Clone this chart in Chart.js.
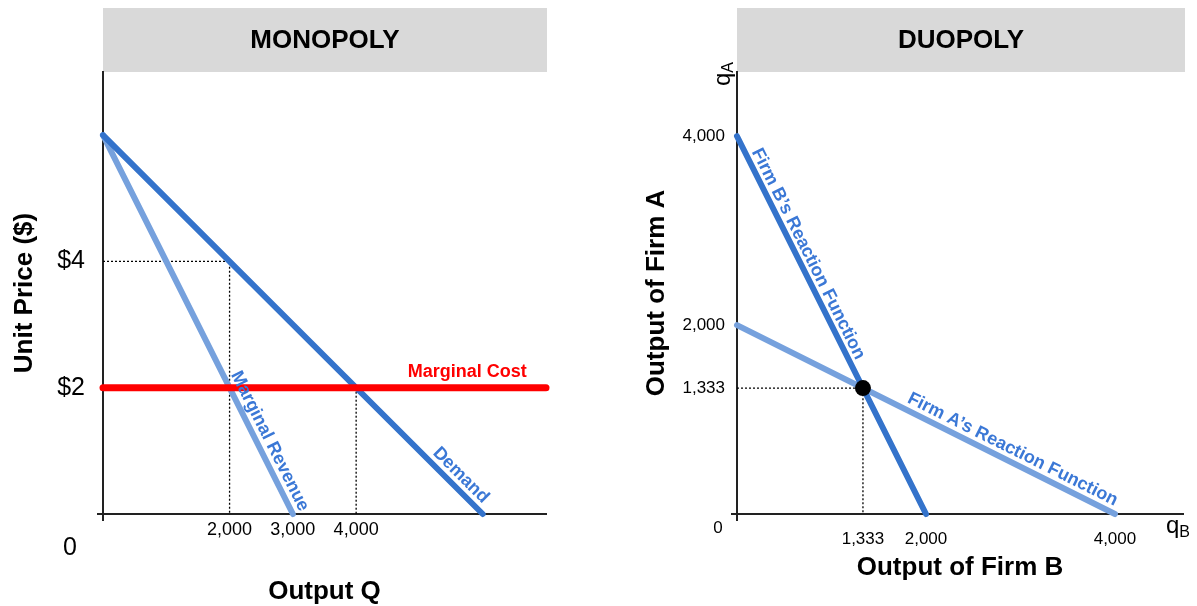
<!DOCTYPE html>
<html>
<head>
<meta charset="utf-8">
<script src="https://cdn.jsdelivr.net/npm/chart.js@4.4.1/dist/chart.umd.min.js"></script>
<style>
  html, body { margin: 0; padding: 0; background: #fff; width: 1197px; height: 606px; overflow: hidden; }
  .panel { position: absolute; top: 0; height: 606px; }
  #mono { left: 0; width: 600px; }
  #duo { left: 600px; width: 597px; }
</style>
</head>
<body>
<div class="panel" id="mono"><canvas id="monoChart"></canvas></div>
<div class="panel" id="duo"><canvas id="duoChart"></canvas></div>
<script>
// ---- Monopoly: linear demand, marginal revenue, constant marginal cost ----
const demandQ = [0, 6000];
const demandP = [6, 0];
const mrQ = [0, 3000];
const mrP = [6, 0];
const mcQ = [0, 7000];
const mcP = [2, 2];
const monopolyQ = 2000, monopolyP = 4;        // output where MR = MC, and its price
const competitiveQ = 4000, competitiveP = 2;  // output where P = MC
const priceTicks = [2, 4];
const outputTicks = [2000, 3000, 4000];

// ---- Duopoly (Cournot): reaction functions ----
const reactionB_qB = [0, 2000];
const reactionB_qA = [4000, 0];
const reactionA_qB = [0, 4000];
const reactionA_qA = [2000, 0];
const equilibriumQB = 1333, equilibriumQA = 1333;
const qATicks = [1333, 2000, 4000];
const qBTicks = [1333, 2000, 4000];

const FONT = '"Liberation Sans", Arial, Helvetica, sans-serif';
const DARK_BLUE = '#3473CB';
const LIGHT_BLUE = '#76A1DD';
const LABEL_BLUE = '#3B78D6';
const AXIS = '#222';

Chart.defaults.font.family = FONT;
Chart.defaults.color = '#000';

const pts = (xs, ys) => xs.map((x, i) => ({ x, y: ys[i] }));
const fmt = v => Number(v).toLocaleString('en-US');

// text drawn along a straight two-point series, centred at fraction t, lifted by `lift` px
function lineLabel(ctx, sx, sy, xArr, yArr, t, text, lift, font, color) {
  const x0 = sx.getPixelForValue(xArr[0]), y0 = sy.getPixelForValue(yArr[0]);
  const x1 = sx.getPixelForValue(xArr[1]), y1 = sy.getPixelForValue(yArr[1]);
  const ang = Math.atan2(y1 - y0, x1 - x0);
  ctx.save();
  ctx.translate(x0 + (x1 - x0) * t, y0 + (y1 - y0) * t);
  ctx.rotate(ang);
  ctx.font = font;
  ctx.fillStyle = color;
  ctx.textAlign = 'center';
  ctx.textBaseline = 'middle';
  ctx.fillText(text, 0, -lift);
  ctx.restore();
}

// header band, small axis overhangs, origin label and curve captions
const decor = {
  id: 'decor',
  beforeDraw(chart, args, o) {
    const { ctx, chartArea: a } = chart;
    ctx.save();
    ctx.fillStyle = '#D9D9D9';
    ctx.fillRect(a.left, o.headTop, a.right - a.left + o.headExtra, a.top - o.headTop);
    ctx.fillStyle = '#000';
    ctx.font = `bold 26px ${FONT}`;
    ctx.textAlign = 'center';
    ctx.textBaseline = 'middle';
    ctx.fillText(o.heading, (a.left + a.right + o.headExtra) / 2, (o.headTop + a.top) / 2 + 1);
    ctx.restore();
  },
  beforeDatasetsDraw(chart, args, o) {
    const { ctx } = chart;
    const sx = chart.scales.x, sy = chart.scales.y;
    const ox = sx.getPixelForValue(0), oy = sy.getPixelForValue(0);
    ctx.save();
    ctx.strokeStyle = AXIS;
    ctx.lineWidth = o.axisWidth;
    ctx.beginPath();
    ctx.moveTo(ox, oy);
    ctx.lineTo(ox, oy + 7);
    ctx.moveTo(ox - 6, oy);
    ctx.lineTo(ox, oy);
    ctx.stroke();
    ctx.restore();
  },
  afterDatasetsDraw(chart, args, o) {
    const { ctx } = chart;
    const sx = chart.scales.x, sy = chart.scales.y;
    const ox = sx.getPixelForValue(0), oy = sy.getPixelForValue(0);
    ctx.save();
    ctx.fillStyle = '#000';
    ctx.font = `${o.zeroSize}px ${FONT}`;
    ctx.textAlign = 'center';
    ctx.textBaseline = 'middle';
    ctx.fillText('0', ox + o.zeroDx, oy + o.zeroDy);
    ctx.restore();
    (o.captions || []).forEach(c =>
      lineLabel(ctx, sx, sy, c.xs, c.ys, c.t, c.text, c.lift, c.font, c.color));
    if (o.axisLetters) {
      // q_A (rotated, beside the top of the vertical axis) and q_B (right end of horizontal axis)
      ctx.save();
      ctx.fillStyle = '#000';
      ctx.textAlign = 'left';
      ctx.textBaseline = 'alphabetic';
      ctx.translate(ox - 7.5, sy.top + 14);
      ctx.rotate(-Math.PI / 2);
      ctx.font = `24px ${FONT}`;
      ctx.fillText('q', 0, 0);
      const qw = ctx.measureText('q').width;
      ctx.font = `16px ${FONT}`;
      ctx.fillText('A', qw, 3);
      ctx.restore();

      ctx.save();
      ctx.fillStyle = '#000';
      ctx.textAlign = 'left';
      ctx.textBaseline = 'alphabetic';
      ctx.font = `24px ${FONT}`;
      const bx = sx.right - 17, by = oy + 19;
      ctx.fillText('q', bx, by);
      const qw2 = ctx.measureText('q').width;
      ctx.font = `16px ${FONT}`;
      ctx.fillText('B', bx + qw2, by + 4);
      ctx.restore();
    }
  }
};

const lineDs = (data, color, width) => ({
  data, showLine: true, borderColor: color, backgroundColor: color,
  borderWidth: width, borderCapStyle: 'round', pointRadius: 0, clip: false
});
const guideDs = data => ({
  data, showLine: true, borderColor: '#000', borderWidth: 1.3,
  borderDash: [2, 2], pointRadius: 0, clip: false
});

const axisBase = (tickFont, pad, list, format, title, titleFont, titlePad, fitKey, fitVal) => ({
  type: 'linear',
  afterFit: s => { s[fitKey] = fitVal; },
  afterBuildTicks: s => { s.ticks = list.map(v => ({ value: v })); },
  grid: { display: false, drawTicks: false },
  border: { display: true, color: AXIS, width: 2 },
  ticks: { font: { size: tickFont }, color: '#000', padding: pad, maxRotation: 0, autoSkip: false, callback: format },
  title: { display: true, text: title, color: '#000',
           font: { size: titleFont, weight: 'bold', lineHeight: 1 }, padding: titlePad }
});

const common = {
  type: 'scatter',
  options: {
    responsive: true,
    maintainAspectRatio: false,
    animation: false,
    events: [],
    plugins: { legend: { display: false }, tooltip: { enabled: false } }
  },
  plugins: [decor]
};

// ---- Monopoly chart ----
new Chart(document.getElementById('monoChart'), {
  ...common,
  data: {
    datasets: [
      lineDs(pts(mcQ, mcP), '#FF0000', 7),
      lineDs(pts(demandQ, demandP), DARK_BLUE, 6),
      lineDs(pts(mrQ, mrP), LIGHT_BLUE, 6),
      guideDs([{ x: 0, y: monopolyP }, { x: monopolyQ, y: monopolyP }, { x: monopolyQ, y: 0 }]),
      guideDs([{ x: competitiveQ, y: competitiveP }, { x: competitiveQ, y: 0 }])
    ]
  },
  options: {
    ...common.options,
    layout: { padding: { top: 72, right: 54, bottom: 0, left: 0 } },
    scales: {
      x: { ...axisBase(18, 5, outputTicks, fmt, 'Output Q', 26, { top: 0, bottom: 1 }, 'height', 92), min: 0, max: 7000 },
      y: { ...axisBase(25, 18, priceTicks, v => '$' + v, 'Unit Price ($)', 26, { top: 12, bottom: 0 }, 'width', 103), min: 0, max: 7 }
    },
    plugins: {
      ...common.options.plugins,
      decor: {
        heading: 'MONOPOLY', headTop: 8, headExtra: 1, axisWidth: 2,
        zeroSize: 25, zeroDx: -33, zeroDy: 34,
        captions: [
          { xs: mcQ, ys: mcP, t: 0.822, text: 'Marginal Cost', lift: 16, font: `bold 18px ${FONT}`, color: '#FF0000' },
          { xs: mrQ, ys: mrP, t: 0.822, text: 'Marginal Revenue', lift: 12, font: `bold 18px ${FONT}`, color: LABEL_BLUE },
          { xs: demandQ, ys: demandP, t: 0.92, text: 'Demand', lift: 12, font: `bold 18px ${FONT}`, color: LABEL_BLUE }
        ]
      }
    }
  }
});

// ---- Duopoly chart ----
new Chart(document.getElementById('duoChart'), {
  ...common,
  data: {
    datasets: [
      { data: [{ x: equilibriumQB, y: equilibriumQA }], pointRadius: 8, backgroundColor: '#000', borderColor: '#000', borderWidth: 0, clip: false },
      lineDs(pts(reactionB_qB, reactionB_qA), DARK_BLUE, 6),
      lineDs(pts(reactionA_qB, reactionA_qA), LIGHT_BLUE, 6),
      guideDs([{ x: 0, y: equilibriumQA }, { x: equilibriumQB, y: equilibriumQA }, { x: equilibriumQB, y: 0 }])
    ]
  },
  options: {
    ...common.options,
    layout: { padding: { top: 72, right: 14, bottom: 0, left: 0 } },
    scales: {
      x: { ...axisBase(17, 15, qBTicks, fmt, 'Output of Firm B', 26, { top: 0, bottom: 25.5 }, 'height', 92), min: 0, max: 4720 },
      y: { ...axisBase(17, 12, qATicks, fmt, 'Output of Firm A', 26, { top: 44, bottom: 0 }, 'width', 137), min: 0, max: 4680 }
    },
    plugins: {
      ...common.options.plugins,
      decor: {
        heading: 'DUOPOLY', headTop: 8, headExtra: 2, axisWidth: 2,
        zeroSize: 17, zeroDx: -19, zeroDy: 14, axisLetters: true,
        captions: [
          { xs: reactionB_qB, ys: reactionB_qA, t: 0.3245, text: 'Firm B\u2019s Reaction Function', lift: 11, font: `bold 18px ${FONT}`, color: LABEL_BLUE },
          { xs: reactionA_qB, ys: reactionA_qA, t: 0.715, text: 'Firm A\u2019s Reaction Function', lift: 12, font: `bold 18px ${FONT}`, color: LABEL_BLUE }
        ]
      }
    }
  }
});
</script>
</body>
</html>
